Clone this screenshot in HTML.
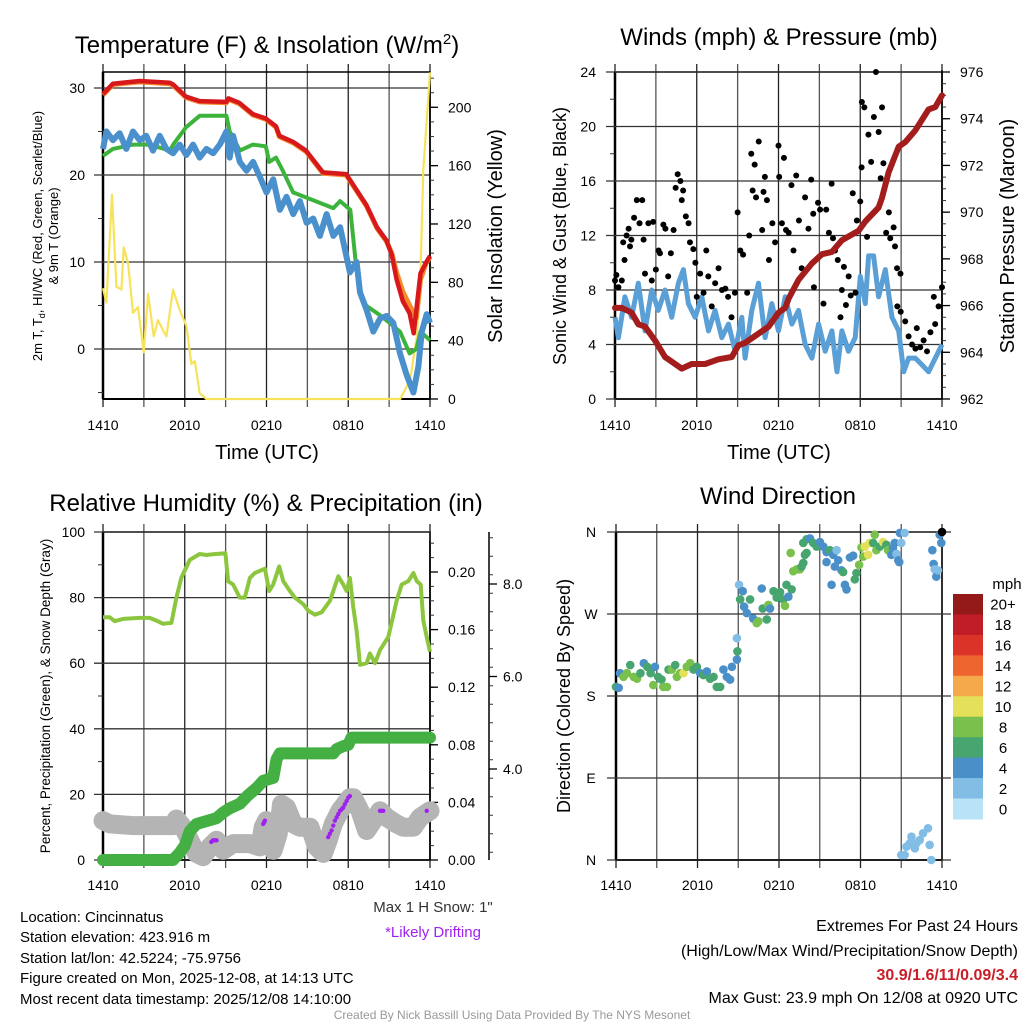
<!DOCTYPE html>
<html><head><meta charset="utf-8"><style>
html,body{margin:0;padding:0;background:#fff;}
svg{display:block;font-family:"Liberation Sans",sans-serif;}
</style></head><body>
<svg id="root" width="1024" height="1024" viewBox="0 0 1024 1024" xmlns="http://www.w3.org/2000/svg">
<rect width="1024" height="1024" fill="#fff"/>
<text x="267" y="53" font-size="24" text-anchor="middle">Temperature (F) &amp; Insolation (W/m<tspan dy="-9" font-size="15">2</tspan><tspan dy="9">)</tspan></text>
<text x="779" y="45" font-size="24" text-anchor="middle">Winds (mph) &amp; Pressure (mb)</text>
<text x="266" y="511" font-size="24" text-anchor="middle">Relative Humidity (%) &amp; Precipitation (in)</text>
<text x="778" y="504" font-size="24" text-anchor="middle">Wind Direction</text>
<text transform="translate(42,236) rotate(-90)" font-size="13" text-anchor="middle">2m T, T<tspan font-size="9" dy="3">d</tspan><tspan dy="-3">, HI/WC (Red, Green, Scarlet/Blue)</tspan></text>
<text transform="translate(58,236) rotate(-90)" font-size="13" text-anchor="middle">&amp; 9m T (Orange)</text>
<text transform="translate(502,236) rotate(-90)" font-size="20" text-anchor="middle">Solar Insolation (Yellow)</text>
<text transform="translate(566,236) rotate(-90)" font-size="18" text-anchor="middle">Sonic Wind &amp; Gust (Blue, Black)</text>
<text transform="translate(1014,236) rotate(-90)" font-size="20" text-anchor="middle">Station Pressure (Maroon)</text>
<text transform="translate(50,696) rotate(-90)" font-size="13.5" text-anchor="middle">Percent, Precipitation (Green), &amp; Snow Depth (Gray)</text>
<text transform="translate(570,696) rotate(-90)" font-size="18" text-anchor="middle">Direction (Colored By Speed)</text>
<text x="267" y="459" font-size="20" text-anchor="middle">Time (UTC)</text>
<text x="779" y="459" font-size="20" text-anchor="middle">Time (UTC)</text>
<g font-size="15">
<text x="20" y="922">Location: Cincinnatus</text>
<text x="20" y="942">Station elevation: 423.916 m</text>
<text x="20" y="963">Station lat/lon: 42.5224; -75.9756</text>
<text x="20" y="983">Figure created on Mon, 2025-12-08, at 14:13 UTC</text>
<text x="20" y="1004">Most recent data timestamp: 2025/12/08 14:10:00</text>
</g>
<text x="433" y="912" font-size="15" fill="#333" text-anchor="middle">Max 1 H Snow: 1"</text>
<text x="433" y="937" font-size="15" fill="#a020f0" text-anchor="middle">*Likely Drifting</text>
<g font-size="16" text-anchor="end">
<text x="1018" y="931">Extremes For Past 24 Hours</text>
<text x="1018" y="956">(High/Low/Max Wind/Precipitation/Snow Depth)</text>
<text x="1018" y="980" fill="#c81e28" font-weight="bold">30.9/1.6/11/0.09/3.4</text>
<text x="1018" y="1003">Max Gust: 23.9 mph On 12/08 at 0920 UTC</text>
</g>
<text x="512" y="1019" font-size="12" fill="#999" text-anchor="middle">Created By Nick Bassill Using Data Provided By The NYS Mesonet</text>
</svg>
<script>
var xTickLabels = ["1410","2010","0210","0810","1410"];
var tempTicks = [0,10,20,30];
var solarTicks = [0,40,80,120,160,200];
var windTicks = [0,4,8,12,16,20,24];
var presTicks = [962,964,966,968,970,972,974,976];
var rhTicks = [0,20,40,60,80,100];
var precipTicks = [0,0.04,0.08,0.12,0.16,0.20];
var snowTicks = [4,6,8];
var dirTicks = ["N","E","S","W","N"];
var speedBins = ["0","2","4","6","8","10","12","14","16","18","20+"];

var redT = [0,0.73,2.7,4.9,5.15,6.1,7.1,9.06,9.2,10.0,11.0,11.95,12.7,12.95,13.95,14.9,16.15,17.85,18.1,19.35,20.1,20.8,21.2,21.55,22.0,22.5,22.8,23.3,23.7,24];
var redV = [29.3,30.5,30.8,30.6,30.4,29.0,28.5,28.4,28.8,28.3,27.0,26.5,25.6,24.5,23.8,22.8,20.3,20.1,19.5,16.5,14.0,12.5,10.8,8.0,5.5,4.1,1.8,8.7,9.9,10.7];
var orangeT = [0,0.73,2.7,4.9,5.15,6.1,7.1,9.06,9.2,10.0,11.0,11.95,12.7,12.95,13.95,14.9,16.15,17.85,18.1,19.35,20.1,20.8,21.2,21.55,22.0,22.7,23.0,23.3,23.7,24];
var orangeV = [29.2,30.4,30.7,30.5,30.3,28.9,28.4,28.3,28.7,28.2,26.9,26.4,25.5,24.4,23.7,22.7,20.2,20.0,19.4,16.4,13.9,12.4,11.0,8.8,6.6,4.4,3.6,8.0,9.8,10.6];
var greenT = [0,0.73,2.2,3.4,4.9,5.15,6.1,7.1,9.06,9.3,10.05,11.0,11.95,12.2,12.7,13.2,13.95,16.9,17.4,18.15,18.55,18.8,19.3,20.5,21.8,22.5,23.0,23.3,24];
var greenV = [22.2,23.0,23.5,23.5,22.8,23.5,25.5,26.8,26.8,25.0,22.8,23.5,23.3,21.5,22.0,20.5,18.0,16.2,17.0,16.0,10.0,7.0,5.0,3.7,2.0,-0.5,0.0,2.0,1.0];
var blueT = [0,0.25,0.73,1.22,1.71,2.2,2.69,3.18,3.67,4.16,4.65,5.14,5.63,6.12,6.61,7.1,7.59,8.08,8.57,9.06,9.3,9.55,10.04,10.53,11.02,11.51,12.0,12.49,12.98,13.47,13.96,14.45,14.94,15.43,15.92,16.41,16.9,17.4,17.75,18.12,18.61,18.86,19.35,19.84,20.33,20.82,21.31,21.8,22.29,22.78,23.15,23.4,23.76,24];
var blueV = [23.0,25.0,24.0,24.8,23.0,25.0,24.0,24.5,22.8,24.5,23.0,22.5,23.5,22.3,23.5,22.0,23.0,22.5,23.5,25.0,22.0,24.5,21.5,20.5,21.5,19.8,18.0,19.5,16.0,17.5,15.5,17.0,14.5,15.0,13.0,15.5,13.0,14.0,11.5,8.8,10.0,6.5,4.5,2.0,3.5,3.8,3.0,-0.5,-3.0,-5.0,-2.0,2.0,4.0,3.0];
var solarT = [0,0.25,0.66,0.98,1.35,1.52,1.84,2.2,2.57,2.99,3.31,3.72,4.04,4.41,4.65,5.14,5.63,6.12,6.49,6.74,7.1,7.59,12,21.81,22.54,23.03,23.27,23.51,24];
var solarV = [76,66,140,77,75,104,93,59,63,32,72,43,54,47,43,75,61,50,24,26,4,0,0,0,13,43,77,157,224];
var presT = [0,0.49,1.22,1.71,2.2,2.94,3.67,4.41,4.9,5.63,6.61,7.59,8.57,9.06,9.55,10.53,11.27,12.0,12.49,12.74,13.47,14.45,15.19,15.92,16.65,17.88,18.37,19.35,19.59,20.08,20.82,21.31,22.04,23.02,23.51,24];
var presV = [965.9,965.9,965.7,965.2,965.1,964.5,963.8,963.5,963.3,963.5,963.5,963.7,963.8,964.3,964.4,964.8,965.1,965.7,965.9,966.3,967.1,967.8,968.2,968.3,968.8,969.2,969.6,970.2,970.6,971.7,972.8,973.0,973.5,974.4,974.5,975.0];
var windT = [0,0.25,0.73,1.22,1.71,2.2,2.69,3.18,3.67,4.16,4.65,5.02,5.39,5.88,6.37,6.86,7.35,7.84,8.33,8.82,9.31,9.55,10.04,10.53,11.02,11.51,12.0,12.49,12.98,13.47,13.96,14.45,14.94,15.43,15.92,16.29,16.65,17.14,17.63,18.0,18.37,18.61,18.98,19.35,19.84,20.33,20.82,21.19,21.55,22.04,22.53,23.02,23.51,24];
var windV = [6,4.5,7.5,6,8.5,5,8,6.5,8,6,8.5,9.5,7,6,7.5,5,6.5,4.5,5.5,3.5,6,3,6.5,8.5,4.5,7,5,7.5,5.5,6.5,4,3,5.5,3.5,5,2,5,3.5,4.5,9,7,10.5,10.5,7.5,9.5,6,5,2,3,3,2.5,2,3,4];
var gustT = [0,0.1,0.25,0.5,0.6,0.7,0.85,1,1.1,1.2,1.4,1.6,1.8,2,2.1,2.2,2.45,2.7,2.8,3,3.2,3.3,3.55,3.7,3.9,4.1,4.3,4.45,4.6,4.8,4.9,5,5.2,5.4,5.5,5.75,5.9,6,6.25,6.5,6.7,6.85,7.1,7.35,7.6,7.85,8.1,8.3,8.55,8.8,9,9.2,9.4,9.7,9.85,10,10.1,10.25,10.35,10.55,10.8,10.9,11,11.15,11.3,11.55,11.75,12,12.05,12.25,12.4,12.55,12.75,12.95,13.1,13.3,13.5,13.7,13.95,14.2,14.4,14.55,14.6,14.9,15.05,15.3,15.5,15.7,15.9,16,16.15,16.35,16.55,16.65,16.8,16.95,17.15,17.3,17.45,17.65,17.75,18,18.1,18.12,18.3,18.5,18.6,18.8,19,19.15,19.35,19.5,19.6,19.7,19.9,20.1,20.2,20.45,20.55,20.7,20.95,20.72,20.97,21.3,21.55,21.8,22.05,22.15,22.4,22.65,22.9,23.15,23.4,23.5,23.75,24];
var gustV = [8.7,9.1,8.2,8.7,11.5,10.2,12,12.5,11.2,11.7,13.3,14.6,12.9,14.6,11.7,9.2,12.9,8.7,13,9.5,10.9,10.7,12.8,12.5,9,10.7,12.4,15.5,16.5,16,14.6,15.3,13.4,12.9,11.5,11,10,7.5,9.2,7.8,10.9,9,6.8,8.5,9.6,8,8.1,7.5,6,7.8,13.7,10.9,10.6,7.8,12,18,15.3,17.2,14.8,18.9,12.4,15.2,16.3,14.6,10.2,12.9,11.5,18.6,16.3,12.9,17.7,12.4,12.2,15.7,10.9,16.4,13.1,9.6,14.8,12.5,16.1,13.6,8.2,14.4,13.9,7,13.9,12.2,15.8,11.8,10.9,10.2,6,8,9.7,6.9,9,7.6,15.1,7.8,13.1,14.5,17,21.8,21.4,11.9,19.4,17.4,20.7,24,19.6,16.2,21.4,17.3,12.2,13.7,11.8,12.6,11.2,9.6,9.2,6.8,6.4,5.7,4.6,4,3.7,5.2,3.8,4.3,3.5,4.9,7.5,5.5,6.8,8.2];
var rhT = [0,0.49,0.86,1.47,2.69,3.43,3.92,4.41,5.02,5.39,5.75,6.37,7.1,7.59,8.08,8.98,9.18,9.55,10.04,10.41,10.78,11.14,11.88,12.2,12.49,12.93,13.23,13.72,14.08,14.7,15.06,15.55,16.04,16.65,17.27,17.63,17.88,18.12,18.37,18.61,18.86,19.35,19.59,19.96,20.33,20.94,21.55,21.92,22.41,22.78,23.03,23.32,23.51,23.76,24];
var rhV = [74,74,72.8,73.5,73.8,73.8,73,72,72.3,80,86,91.5,93.3,93,93.2,93.5,85,84,80,80,86,87.5,88.8,82,84,89.5,85,82,80,78,76,74.8,75.5,79,86.5,84,82,86,77,70,59.5,60,63,60,64,68,79,84,85,87.5,85,84,73,68,63.5];
var precipT = [0,5.14,5.63,6.0,6.37,6.86,7.59,8.33,8.82,9.31,10.04,10.65,11.27,11.76,12.49,12.74,12.98,14.45,16.9,17.15,17.63,18.0,18.24,24];
var precipV = [0,0,0.005,0.01,0.02,0.025,0.027,0.029,0.033,0.036,0.039,0.045,0.05,0.055,0.057,0.07,0.074,0.074,0.074,0.077,0.079,0.08,0.085,0.085];
var snowT = [0,0.49,2.2,5.14,5.39,5.88,6.37,6.86,7.35,7.84,8.33,8.82,9.55,10.78,11.51,11.76,12.0,12.25,12.49,12.86,13.1,13.47,13.96,14.45,15.19,15.68,16.17,16.53,16.9,17.39,18.12,18.37,18.86,19.35,19.84,20.33,20.82,21.55,22.04,22.78,23.27,24];
var snowV = [12,11,10.5,10.5,12.5,10,6,2,1,4,6,3,5,5,4,10,12,6,3,8,17,16,11,10,10,4,2,6,11,15,19,19,15,9,12,15,13,11,10,10,13,15];
var driftT = [7.95,8.08,8.2,8.33,11.76,11.82,11.88,16.53,16.65,16.78,16.9,17.02,17.15,17.27,17.4,17.52,17.63,17.75,17.88,18.0,18.12,20.33,20.45,20.57,23.76];
var driftV = [5.5,6,6,6,11,11.5,12,7,8,9,10.5,12,13,14,15,15.5,16,17,18,19,19.5,15,15,15,15];
var dirT = [0,0.2,0.3,0.55,0.8,1.05,1.3,1.55,1.8,2.05,2.3,2.55,2.75,2.87,3.1,3.35,3.48,3.75,3.87,4.11,4.36,4.48,4.72,4.97,5.21,5.46,5.71,5.95,6.2,6.44,6.69,6.93,7.18,7.42,7.67,7.91,8.16,8.4,8.53,8.9,8.94,8.9,9.06,9.14,9.33,9.43,9.63,9.87,10.1,10.36,10.48,10.73,10.8,11.1,11.22,11.34,11.6,11.83,12.08,12.32,12.44,12.55,12.69,12.86,13.05,13.3,13.54,13.66,13.79,12.93,13.79,14.03,14.28,14.52,14.77,15.01,15.26,15.5,15.75,15.99,16.24,13.91,14.03,15.5,15.87,16.11,16.36,16.6,16.72,16.85,16.97,17.22,17.46,17.58,17.7,17.9,18.07,18.2,18.32,18.56,18.68,18.93,19.05,19.17,19.42,19.66,19.9,20.03,20.27,20.39,20.52,20.65,20.78,20.85,20.9,21.0,21.25,21.0,21.25,21.38,21.63,21.75,22.0,22.12,22.36,22.6,22.97,23.09,23.21,23.29,23.38,23.46,23.58,23.7,23.83,23.95,24];
var dirD = [190,189,205,201,205,214,201,199,205,216,212,205,192,212,201,198,190,190,209,209,214,201,205,205,212,216,209,212,205,203,207,199,201,190,190,209,201,198,212,220,229,243.5,302,286,295,278,271,286,265,260,262,298,276,264,280,276,295,288,294,286,279,302,289,337,317,319,319,322,326,297,348,352,353,348,344,349,344,338,340,335,340,335,337,327,302,322,329,318,316,302,297,332,334,308,315,324,343,333,344,335,348,348,357,340,344,349,346,340,335,342,348,336,329,327,359,348,359,5.5,5.5,14.6,18.3,25.6,12.8,18.3,21.9,29.3,34.8,16.5,0,340,325,319,311,318,357,348,360];
var dirS = [6,4,4,8,8,6,8,8,6,4,6,6,8,4,6,6,8,8,6,8,6,8,8,10,8,8,6,6,4,6,4,6,6,6,6,4,4,4,4,4,6,2,2,6,4,4,4,6,4,8,8,4,6,6,8,4,6,6,6,6,8,6,4,8,8,8,8,6,6,6,6,6,4,6,6,4,4,4,6,4,2,6,6,4,4,4,4,4,6,4,4,4,4,6,6,8,8,8,10,10,10,6,8,8,6,10,6,8,4,4,4,2,4,4,4,2,2,2,2,2,2,2,2,2,2,2,2,2,2,4,4,2,4,2,4,4];
var speedColors = ["#b8e3f7","#82bde6","#4a8fc8","#47a56f","#7ac04c","#e5e05a","#f5a94a","#ef6530","#dc3328","#c11d26","#941919"];

var NS = "http://www.w3.org/2000/svg";
var root = document.getElementById("root");
function mk(tag, attrs, parent){
  var el = document.createElementNS(NS, tag);
  for (var k in attrs) el.setAttribute(k, attrs[k]);
  (parent || root).appendChild(el);
  return el;
}
function linear(d0,d1,r0,r1){ return function(v){ return r0 + (v-d0)/(d1-d0)*(r1-r0); }; }
function pathFrom(ts, vs, sx, sy){
  var d = "";
  for (var i=0;i<ts.length;i++) d += (i?"L":"M") + sx(ts[i]).toFixed(1) + "," + sy(vs[i]).toFixed(1);
  return d;
}
function panelFrame(name, x0, x1, yT, yB, bottomLabelY){
  var g = mk("g", {});
  
  
  for (var i=0;i<=8;i++){
    var x = x0 + i*(x1-x0)/8;
    var ln = mk("line", {x1:x, x2:x, y1:yT-8, y2:yB+8, stroke: (i%2==0)?"#222":"#555", "stroke-width":1.3}, g);
    
    
  }
  for (var j=0;j<xTickLabels.length;j++){
    var t = mk("text", {x: x0 + j*(x1-x0)/4, y: bottomLabelY, "font-size":14, "text-anchor":"middle"}, g);
    t.textContent = xTickLabels[j];
    
    
  }
  var fr = mk("rect", {x:x0, y:yT, width:x1-x0, height:yB-yT, fill:"none", stroke:"#000", "stroke-width":1.5}, g);
  
  
  mk("line", {x1:x0, x2:x0, y1:yT, y2:yB, stroke:"#000", "stroke-width":2.5}, g);
  mk("line", {x1:x0, x2:x1, y1:yB, y2:yB, stroke:"#000", "stroke-width":2}, g);
  return g;
}
function hGrid(g, ticks, sy, x0, x1, labelX, fmt){
  ticks.forEach(function(v){
    var y = sy(v);
    var ln = mk("line", {x1:x0-9, x2:x1, y1:y, y2:y, stroke:"#333", "stroke-width":1.3}, g);
    
    
    var t = mk("text", {x:labelX, y:y+5, "font-size":14, "text-anchor":"end"}, g);
    t.textContent = fmt ? fmt(v) : v;
    
    
  });
}
function minorTicks(g, vals, sy, x, dir, len){
  vals.forEach(function(v){
    var y = sy(v);
    mk("line", {x1:x, x2:x+dir*len, y1:y, y2:y, stroke:"#333", "stroke-width":1}, g);
  });
}
function rightAxis(g, ticks, minor, sy, x, labelX, fmt){
  mk("line", {x1:x, x2:x, y1:sy(minor[minor.length-1])-2, y2:sy(minor[0]), stroke:"#000", "stroke-width":1.5}, g);
  minorTicks(g, minor, sy, x, 1, 4);
  ticks.forEach(function(v){
    var y = sy(v);
    mk("line", {x1:x, x2:x+8, y1:y, y2:y, stroke:"#000", "stroke-width":1.3}, g);
    var t = mk("text", {x:labelX, y:y+5, "font-size":14}, g);
    t.textContent = fmt ? fmt(v) : v;
    
    
  });
}
function range(a,b,s){ var r=[]; for (var v=a; v<=b+1e-9; v+=s) r.push(+v.toFixed(4)); return r; }

(function(){
  var x0=103,x1=430,yT=72,yB=399;
  var sx = linear(0,24,x0,x1);
  var sy = linear(0,30,349,88);
  var sr = linear(0,200,399,107.3);
  var g = panelFrame("temperature", x0, x1, yT, yB, 430);
  hGrid(g, tempTicks, sy, x0, x1, 85);
  minorTicks(g, [-5,5,15,25], sy, x0, -1, 5);
  rightAxis(g, solarTicks, range(0,220,10), sr, x1, 448);
  var p;
  p = mk("path", {d:pathFrom(solarT, solarV, sx, sr), fill:"none", stroke:"#f7e35a", "stroke-width":2.2, "stroke-linejoin":"round"});
  
  
  p = mk("path", {d:pathFrom(greenT, greenV, sx, sy), fill:"none", stroke:"#3cb43c", "stroke-width":4, "stroke-linejoin":"round"});
  
  
  p = mk("path", {d:pathFrom(blueT, blueV, sx, sy), fill:"none", stroke:"#4a90cc", "stroke-width":6, "stroke-linejoin":"round"});
  
  
  p = mk("path", {d:pathFrom(orangeT, orangeV, sx, sy), fill:"none", stroke:"#f58a2a", "stroke-width":5, "stroke-linejoin":"round"});
  
  
  p = mk("path", {d:pathFrom(redT, redV, sx, sy), fill:"none", stroke:"#d7191c", "stroke-width":4.5, "stroke-linejoin":"round"});
  
  
})();

(function(){
  var x0=615,x1=942,yT=72,yB=399;
  var sx = linear(0,24,x0,x1);
  var sy = linear(0,24,399,72);
  var sp = linear(962,976,399,72);
  var g = panelFrame("winds", x0, x1, yT, yB, 430);
  hGrid(g, windTicks, sy, x0, x1, 596);
  minorTicks(g, [2,6,10,14,18,22], sy, x0, -1, 5);
  rightAxis(g, presTicks, range(962,976,0.5), sp, x1, 960);
  var p = mk("path", {d:pathFrom(windT, windV, sx, sy), fill:"none", stroke:"#5a9fd6", "stroke-width":5, "stroke-linejoin":"round"});
  
  
  var dg = mk("g", {fill:"#000"});
  
  
  for (var i=0;i<gustT.length;i++){
    var c = mk("circle", {cx:sx(gustT[i]), cy:sy(gustV[i]), r:3}, dg);
    
    
  }
  p = mk("path", {d:pathFrom(presT, presV, sx, sp), fill:"none", stroke:"#a31d1d", "stroke-width":6, "stroke-linejoin":"round", "stroke-linecap":"round"});
  
  
})();

(function(){
  var x0=103,x1=430,yT=532,yB=860;
  var sx = linear(0,24,x0,x1);
  var sy = linear(0,100,860,532);
  var si = linear(0,0.2,860,572);
  var ss = linear(4,8,769,584);
  var g = panelFrame("humidity", x0, x1, yT, yB, 890);
  hGrid(g, rhTicks, sy, x0, x1, 85);
  minorTicks(g, [10,30,50,70,90], sy, x0, -1, 5);
  rightAxis(g, precipTicks, range(0,0.22,0.01), si, x1, 448, function(v){return v.toFixed(2);});
  var sg = mk("g", {});
  
  
  mk("line", {x1:489, x2:489, y1:532, y2:860, stroke:"#000", "stroke-width":1.5}, sg);
  minorTicks(sg, range(2.2,9,0.4), ss, 489, 1, 4);
  snowTicks.forEach(function(v){
    var y = ss(v);
    mk("line", {x1:489, x2:497, y1:y, y2:y, stroke:"#000", "stroke-width":1.3}, sg);
    var t = mk("text", {x:503, y:y+5, "font-size":14}, sg);
    t.textContent = v.toFixed(1);
    
    
  });
  var p = mk("path", {d:pathFrom(snowT, snowV, sx, sy), fill:"none", stroke:"#b4b4b4", "stroke-width":19, "stroke-linejoin":"round", "stroke-linecap":"round"});
  
  
  p = mk("path", {d:pathFrom(precipT, precipV, sx, si), fill:"none", stroke:"#44b044", "stroke-width":12, "stroke-linejoin":"round", "stroke-linecap":"round"});
  
  
  p = mk("path", {d:pathFrom(rhT, rhV, sx, sy), fill:"none", stroke:"#8cc63f", "stroke-width":4, "stroke-linejoin":"round"});
  
  
  var dg = mk("g", {fill:"#a020f0"});
  
  
  for (var i=0;i<driftT.length;i++){
    var c = mk("circle", {cx:sx(driftT[i]), cy:sy(driftV[i]), r:2.2}, dg);
    
    
  }
})();

(function(){
  var x0=616,x1=942,yT=532,yB=860;
  var sx = linear(0,24,x0,x1);
  var sy = linear(0,360,860,532);
  var g = panelFrame("direction", x0, x1, yT, yB, 890);
  dirTicks.forEach(function(lbl, i){
    var y = sy(i*90);
    var ln = mk("line", {x1:x0-9, x2:x1+9, y1:y, y2:y, stroke:"#333", "stroke-width":1.3}, g);
    
    
    var t = mk("text", {x:591, y:y+5, "font-size":14, "text-anchor":"middle"}, g);
    t.textContent = lbl;
    
    
  });
  var dg = mk("g", {});
  
  
  for (var i=0;i<dirT.length;i++){
    var bin = Math.min(10, Math.floor(dirS[i]/2));
    var c = mk("circle", {cx:sx(dirT[i]), cy:sy(dirD[i]), r:4.3, fill:speedColors[bin]}, dg);
    
    
  }
  var cb = mk("g", {});
  
  
  var ct = mk("text", {x:1007, y:589, "font-size":15, "text-anchor":"middle"}, cb);
  ct.textContent = "mph";
  
  
  var top=594, h=225/speedBins.length;
  for (var k=0;k<speedBins.length;k++){
    var idx = speedBins.length-1-k;
    var r = mk("rect", {x:953, y:top+k*h, width:30, height:h+0.5, fill:speedColors[idx]}, cb);
    
    
    var t = mk("text", {x:1003, y:top+k*h+h/2+5.5, "font-size":15, "text-anchor":"middle"}, cb);
    t.textContent = speedBins[idx];
    
    
  }
})();
</script>
</body></html>
